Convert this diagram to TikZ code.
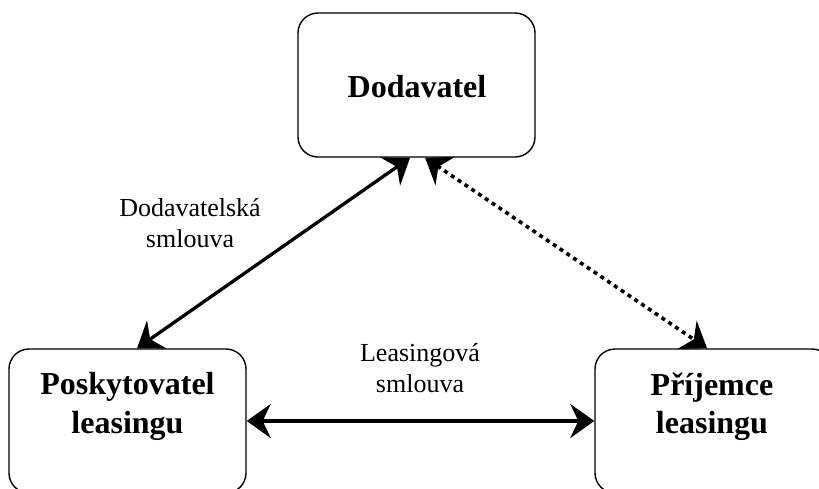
\documentclass[tikz,border=0pt]{standalone}
\usepackage{fontspec}
\setmainfont{Liberation Serif}
\usetikzlibrary{arrows.meta,calc}
\tikzset{
  boxnode/.style={draw, line width=1.4pt, rounded corners=20pt, minimum width=237pt, minimum height=144pt, inner sep=0pt},
  boldtext/.style={font=\bfseries\fontsize{32}{38.4}\selectfont, align=center, inner sep=0pt},
  labeltext/.style={font=\fontsize{26}{31}\selectfont, align=center, inner sep=0pt},
  conn/.style={line width=3.3pt, {Stealth[length=24pt,width=34pt,inset=8pt]}-{Stealth[length=24pt,width=34pt,inset=8pt]}},
  dotconn/.style={conn, line width=3.6pt, dash pattern=on 4pt off 4.2pt}
}
\begin{document}
\begin{tikzpicture}[x=1pt,y=-1pt]
\useasboundingbox (0,0) rectangle (819,488);
\node[boxnode] (dod) at (416.5,85) {};
\node[boxnode] (pl) at (127.5,421) {};
\node[boxnode] (pr) at (713.5,421) {};
\node[boldtext, anchor=base] (dodt) at (417,97) {Dodavatel};
\node[boldtext] (plt) at (127.5,406.5) {Poskytovatel\\leasingu};
\node[boldtext] (prt) at (712,406.5) {Příjemce\\leasingu};
\node[labeltext] (l1) at (190,223.5) {Dodavatelská\\smlouva};
\node[labeltext] (l2) at (420,368.5) {Leasingová\\smlouva};
\draw[conn] ($(pl.north west)!0.54!(pl.north east)$) -- ($(dod.south west)!0.473!(dod.south east)$);
\draw[dotconn] ($(dod.south west)!0.536!(dod.south east)$) -- ($(pr.north west)!0.473!(pr.north east)$);
\draw[conn] (pl.east) -- (pr.west);
\end{tikzpicture}
\end{document}
